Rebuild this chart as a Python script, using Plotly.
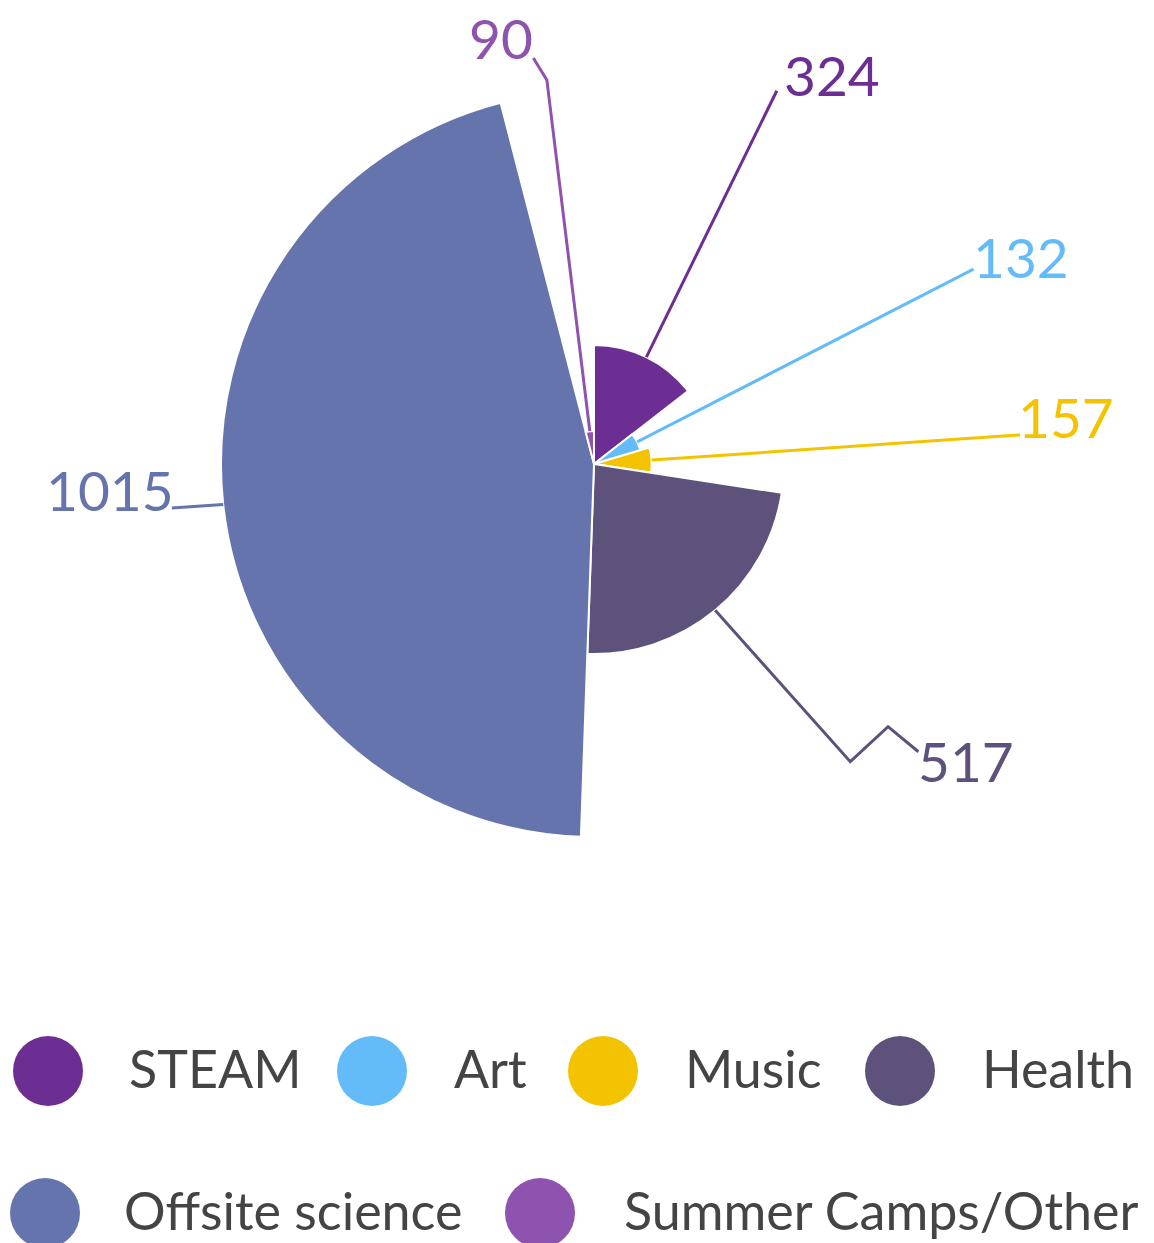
import numpy as np
import plotly.graph_objects as go

# ---------------- data ----------------
categories = ["STEAM", "Art", "Music", "Health", "Offsite science", "Summer Camps/Other"]
values = [324, 132, 157, 517, 1015, 90]
colors = ["#6c2e92", "#64bbf9", "#f4c300", "#5e527c", "#6574ad", "#8d53ae"]

# ---------------- style / layout ----------------
W, H = 1154, 1243
FONT = "Lato"
CX, CY = 594, 464          # pie centre (px)
R_MAX_VAL_PX = 373         # radius (px) of the largest slice
R_DOMAIN_PX = 460          # radius (px) of the polar domain
LABEL_SIZE = 55
LEGEND_SIZE = 52

# leader line extra vertices: (radius in value units, angle offset from slice middle)
leader_paths = [
    [(1131, 0.0)],
    [(1161, 0.0)],
    [(1162, 0.0)],
    [(1069, -1.1), (1073, -8.6), (1180, -8.8)],
    [(1155, 0.3)],
    [(1053, 0.25), (1117, -1.25)],
]
# label anchor (radius in value units, absolute angle)
label_pos = [(1241, 31.5), (1291, 64.1), (1291, 84.3), (1295, 128.6), (1319, 266.9), (1187, 347.7)]

# legend layout (px): circle centre x, text left x, row centre y
legend_items = [(48, 127, 1071), (372, 452, 1071), (603, 683, 1071), (900, 980, 1071),
                (45, 122, 1213), (540, 622, 1213)]
LEGEND_DOT = 70
LEGEND_TEXT_DY = -3

# ---------------- computation ----------------
vals = np.array(values, dtype=float)
widths = vals / vals.sum() * 360.0
mids = np.cumsum(widths) - widths / 2.0
vmax = vals.max()
r_range = vmax * R_DOMAIN_PX / R_MAX_VAL_PX
px_per_unit = R_MAX_VAL_PX / vmax

fig = go.Figure()

fig.add_trace(go.Barpolar(
    r=values, theta=mids, width=widths,
    marker=dict(color=colors, line=dict(color="white", width=2)),
    showlegend=False, hoverinfo="skip",
))

annotations = []
for i, cat in enumerate(categories):
    rs = [values[i]] + [p[0] for p in leader_paths[i]]
    ts = [mids[i]] + [mids[i] + p[1] for p in leader_paths[i]]
    fig.add_trace(go.Scatterpolar(
        r=rs, theta=ts, mode="lines",
        line=dict(color=colors[i], width=3),
        cliponaxis=False, showlegend=False, hoverinfo="skip",
    ))
    lr, lt = label_pos[i]
    lx = CX + lr * px_per_unit * np.sin(np.radians(lt))
    ly = CY - lr * px_per_unit * np.cos(np.radians(lt))
    annotations.append(dict(
        text=str(values[i]), xref="paper", yref="paper",
        x=lx / W, y=1 - ly / H, xanchor="center", yanchor="middle",
        showarrow=False,
        font=dict(family=FONT, size=LABEL_SIZE, color=colors[i]),
    ))

x0 = (CX - R_DOMAIN_PX) / W
x1 = (CX + R_DOMAIN_PX) / W
y0 = 1 - (CY + R_DOMAIN_PX) / H
y1 = 1 - (CY - R_DOMAIN_PX) / H

shapes = []
for i, cat in enumerate(categories):
    cx, tx, cy = legend_items[i]
    shapes.append(dict(
        type="circle", xref="paper", yref="paper",
        x0=(cx - LEGEND_DOT / 2) / W, x1=(cx + LEGEND_DOT / 2) / W,
        y0=1 - (cy + LEGEND_DOT / 2) / H, y1=1 - (cy - LEGEND_DOT / 2) / H,
        fillcolor=colors[i], line=dict(width=0),
    ))
    annotations.append(dict(
        text=cat, xref="paper", yref="paper", x=tx / W, y=1 - (cy + LEGEND_TEXT_DY) / H,
        xanchor="left", yanchor="middle", showarrow=False,
        font=dict(family=FONT, size=LEGEND_SIZE, color="#444444"),
    ))

fig.update_layout(
    width=W, height=H,
    margin=dict(l=0, r=0, t=0, b=0),
    paper_bgcolor="white", plot_bgcolor="white",
    polar=dict(
        domain=dict(x=[x0, x1], y=[y0, y1]),
        bgcolor="rgba(0,0,0,0)", hole=0,
        radialaxis=dict(range=[0, r_range], visible=False, showgrid=False),
        angularaxis=dict(visible=False, rotation=90, direction="clockwise", showgrid=False),
    ),
    shapes=shapes, annotations=annotations,
    showlegend=False,
)

fig.write_html(
    "out.html",
    config={"displayModeBar": False},
    post_script="document.body.style.margin='0';document.body.style.overflow='hidden';",
)
